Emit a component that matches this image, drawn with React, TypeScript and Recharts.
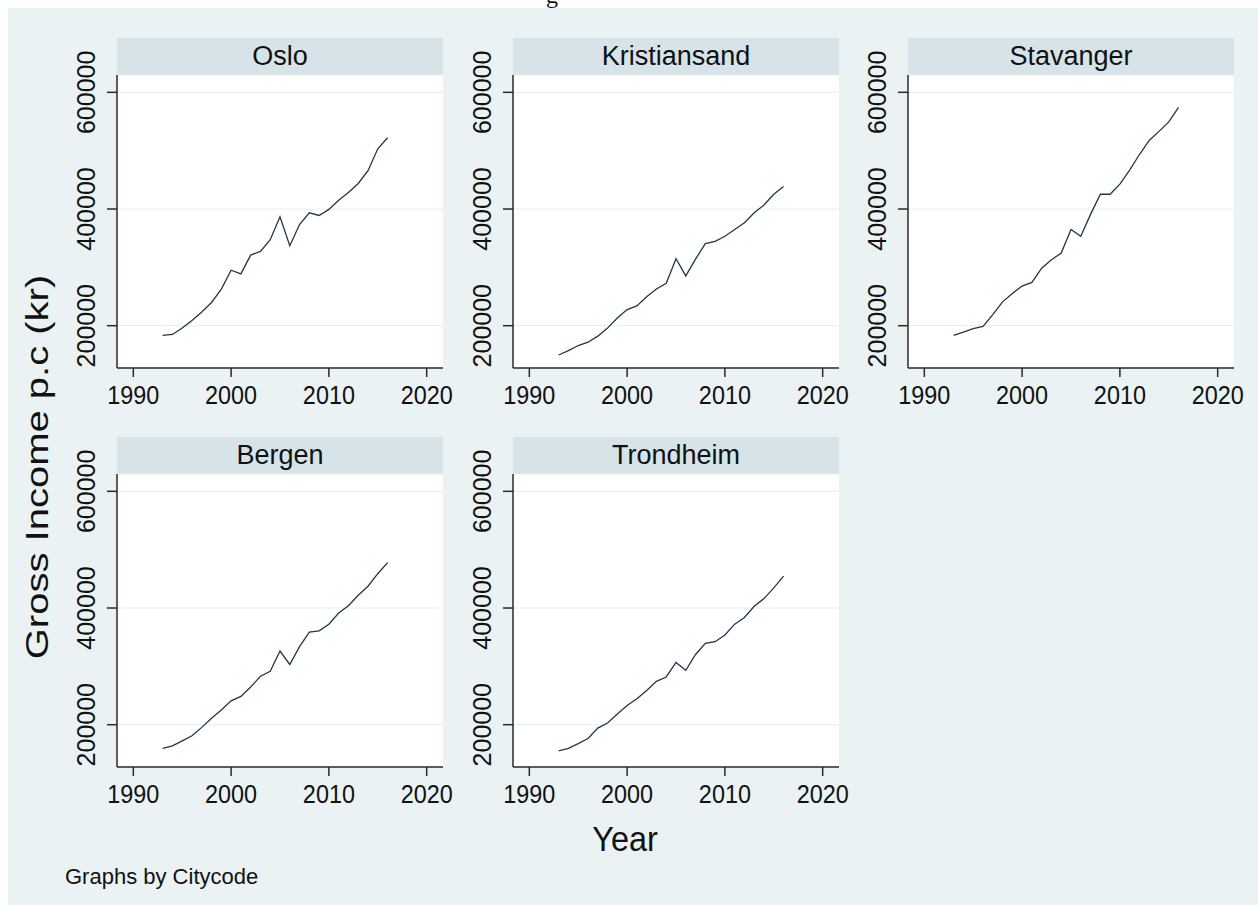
import { LineChart, Line, XAxis, YAxis, CartesianGrid } from 'recharts';

// Gross income per capita (kr), 1993–2016, by city
const YEARS = [
  1993, 1994, 1995, 1996, 1997, 1998, 1999, 2000, 2001, 2002, 2003, 2004,
  2005, 2006, 2007, 2008, 2009, 2010, 2011, 2012, 2013, 2014, 2015, 2016,
];

const OSLO = [
  183300, 185000, 196000, 209000, 223600, 239800, 262800, 295100, 288800, 321000, 327400, 347500,
  386700, 337200, 373500, 393600, 389000, 399400, 415000, 428200, 443800, 465700, 503200, 522200,
];
const KRISTIANSAND = [
  149800, 157300, 166000, 171700, 182100, 195900, 213200, 227600, 234000, 249500, 262800, 272600,
  314700, 285300, 314100, 340600, 344600, 353300, 364800, 376400, 393600, 406900, 425300, 438600,
];
const STAVANGER = [
  183300, 189000, 194800, 198800, 219000, 240900, 255300, 268000, 274300, 298500, 312900, 324500,
  364800, 353300, 390800, 425300, 425300, 442600, 466800, 493400, 517600, 533100, 549300, 574100,
];
const BERGEN = [
  159600, 163700, 172300, 181000, 195400, 210900, 225300, 240900, 248400, 264500, 283000, 291600,
  326200, 303200, 333700, 358500, 360800, 372300, 391300, 404000, 421900, 437400, 458800, 477800,
];
const TRONDHEIM = [
  155000, 159600, 167700, 176300, 194200, 202900, 218400, 232800, 244400, 258800, 274300, 281800,
  306600, 293300, 320400, 339400, 342300, 353800, 372300, 383800, 402900, 416100, 434600, 454700,
];

const CITY_NAMES = ['Oslo', 'Kristiansand', 'Stavanger', 'Bergen', 'Trondheim'];
const CITY_VALUES = [OSLO, KRISTIANSAND, STAVANGER, BERGEN, TRONDHEIM];

const X_TICKS = [1990, 2000, 2010, 2020];
const Y_TICKS = [200000, 400000, 600000];

// layout
const FONT = '"Liberation Sans", Arial, Helvetica, sans-serif';
const BG = '#eaf2f3';
const STRIP = '#d6e4ea';
const LINE = '#22364a';
const AXIS = '#2a2a2a';
const COL_X = [117, 513, 908];
const ROW_Y = [75, 474];
const PLOT_W = 326;
const PLOT_H = 293;
const STRIP_H = 37;
const Y_AXIS_W = 60;
const X_AXIS_H = 45;
const TOP_PAD = 40;
const RIGHT_PAD = 14;

function YearTick({ x, y, payload }: any) {
  return (
    <text
      transform={`translate(${x},${y + 19}) scale(0.9,1)`}
      textAnchor="middle"
      fontSize={26}
      fontFamily={FONT}
      fill="#111"
    >
      {payload.value}
    </text>
  );
}

function IncomeTick({ x, y, payload }: any) {
  return (
    <text
      transform={`translate(${x},${y}) rotate(-90)`}
      textAnchor="middle"
      fontSize={25}
      fontFamily={FONT}
      fill="#111"
    >
      {payload.value}
    </text>
  );
}

function CityPanel({ name, values, left, top }: { name: string; values: number[]; left: number; top: number }) {
  const data = YEARS.map((year, i) => ({ year, income: values[i] }));
  return (
    <>
      <div
        style={{
          position: 'absolute',
          left,
          top: top - STRIP_H,
          width: PLOT_W,
          height: STRIP_H,
          background: STRIP,
          fontFamily: FONT,
          fontSize: 27,
          lineHeight: `${STRIP_H}px`,
          textAlign: 'center',
          color: '#111',
        }}
      >
        {name}
      </div>
      <div style={{ position: 'absolute', left: left - Y_AXIS_W, top: top - TOP_PAD }}>
        <LineChart
          width={Y_AXIS_W + PLOT_W + RIGHT_PAD}
          height={TOP_PAD + PLOT_H + X_AXIS_H}
          data={data}
          margin={{ top: TOP_PAD, right: RIGHT_PAD, left: 0, bottom: 0 }}
        >
          <CartesianGrid vertical={false} fill="#ffffff" fillOpacity={1} stroke="#e6eef0" strokeWidth={1} />
          <XAxis
            dataKey="year"
            type="number"
            domain={[1988.33, 2021.67]}
            ticks={X_TICKS}
            interval={0}
            allowDataOverflow
            height={X_AXIS_H}
            tickSize={9}
            tickMargin={8}
            axisLine={{ stroke: AXIS, strokeWidth: 1.5 }}
            tickLine={{ stroke: AXIS, strokeWidth: 1.5 }}
            tick={(props: any) => <YearTick {...props} />}
          />
          <YAxis
            type="number"
            domain={[127500, 629700]}
            ticks={Y_TICKS}
            interval={0}
            allowDataOverflow
            width={Y_AXIS_W}
            tickSize={10}
            tickMargin={12}
            axisLine={{ stroke: AXIS, strokeWidth: 1.5 }}
            tickLine={{ stroke: AXIS, strokeWidth: 1.5 }}
            tick={(props: any) => <IncomeTick {...props} />}
          />
          <Line
            type="linear"
            dataKey="income"
            stroke={LINE}
            strokeWidth={1.3}
            dot={false}
            activeDot={false}
            isAnimationActive={false}
          />
        </LineChart>
      </div>
    </>
  );
}

export default function App() {
  return (
    <div style={{ position: 'absolute', left: 0, top: 0, width: 1258, height: 905, background: '#fff', overflow: 'hidden' }}>
      <div style={{ position: 'absolute', left: 8, top: 8, width: 1250, height: 897, background: BG }} />
      {CITY_NAMES.map((name, i) => (
        <CityPanel
          key={name}
          name={name}
          values={CITY_VALUES[i]}
          left={COL_X[i % 3]}
          top={ROW_Y[Math.floor(i / 3)]}
        />
      ))}
      <svg
        width={1258}
        height={905}
        style={{ position: 'absolute', left: 0, top: 0, pointerEvents: 'none' }}
      >
        <text x={546} y={3} fontSize={24} fontFamily='"Liberation Serif", "Times New Roman", serif' fill="#111">
          g
        </text>
        <text
          transform="translate(48,467) rotate(-90) scale(1.25,1)"
          textAnchor="middle"
          fontSize={32}
          fontFamily={FONT}
          fill="#111"
        >
          Gross Income p.c (kr)
        </text>
        <text transform="translate(625,851) scale(0.9,1)" textAnchor="middle" fontSize={36} fontFamily={FONT} fill="#111">
          Year
        </text>
        <text x={65} y={884} fontSize={22} fontFamily={FONT} fill="#111">
          Graphs by Citycode
        </text>
      </svg>
    </div>
  );
}
